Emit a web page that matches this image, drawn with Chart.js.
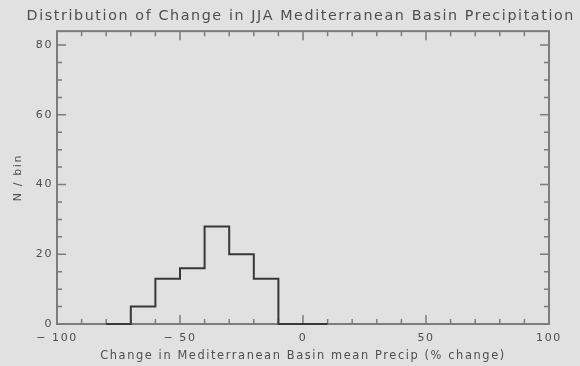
<!DOCTYPE html>
<html lang="en">
<head>
    <meta charset="UTF-8">
    <title>Distribution of Change in JJA Mediterranean Basin Precipitation</title>
    <script src="https://cdn.jsdelivr.net/npm/chart.js"></script>
    <style>
        html, body { margin: 0; padding: 0; background: #e1e1e1; }
        #wrap { width: 580px; height: 366px; }
    </style>
</head>
<body>
    <div id="wrap"><canvas id="histCanvas" width="580" height="366"></canvas></div>

    <script>
        // histogram bins (% change) and counts per bin
        const binEdges = [-80, -70, -60, -50, -40, -30, -20, -10, 0, 10];
        const binCounts = [0, 5, 13, 16, 28, 20, 13, 0, 0];
        const xTicks = [-100, -50, 0, 50, 100];
        const yTicks = [0, 20, 40, 60, 80];

        const ink = '#4e4e4e';
        const axisGray = '#7c7c7c';

        // step points: first edge, then each bin's count at its right edge
        const points = [{ x: binEdges[0], y: binCounts[0] }];
        binCounts.forEach((c, i) => points.push({ x: binEdges[i + 1], y: c }));

        // wide vector-font look
        const spacing = {
            id: 'spacing',
            beforeLayout(chart) { chart.ctx.letterSpacing = '1.6px'; },
            beforeDraw(chart) { chart.ctx.letterSpacing = '1.6px'; }
        };

        // IDL-style frame with inward ticks on all four sides
        const frameTicks = {
            id: 'frameTicks',
            beforeDatasetsDraw(chart) {
                const ctx = chart.ctx;
                const a = chart.chartArea;
                const xs = chart.scales.x, ys = chart.scales.y;
                ctx.save();
                ctx.strokeStyle = axisGray;
                ctx.lineWidth = 2;
                ctx.strokeRect(a.left, a.top, a.right - a.left, a.bottom - a.top);
                ctx.lineWidth = 1.5;
                for (let v = -100; v <= 100; v += 10) {
                    const px = xs.getPixelForValue(v);
                    const len = (v % 50 === 0) ? 9 : 5;
                    ctx.beginPath();
                    ctx.moveTo(px, a.bottom); ctx.lineTo(px, a.bottom - len);
                    ctx.moveTo(px, a.top); ctx.lineTo(px, a.top + len);
                    ctx.stroke();
                }
                for (let v = 0; v <= ys.max; v += 5) {
                    const py = ys.getPixelForValue(v);
                    const len = (v % 20 === 0) ? 9 : 5;
                    ctx.beginPath();
                    ctx.moveTo(a.left, py); ctx.lineTo(a.left + len, py);
                    ctx.moveTo(a.right, py); ctx.lineTo(a.right - len, py);
                    ctx.stroke();
                }
                ctx.restore();
            }
        };

        const ctx = document.getElementById('histCanvas').getContext('2d');
        new Chart(ctx, {
            type: 'line',
            data: {
                datasets: [{
                    data: points,
                    stepped: 'after',
                    borderColor: '#383838',
                    borderWidth: 2,
                    pointRadius: 0,
                    fill: false,
                    clip: false
                }]
            },
            options: {
                responsive: false,
                animation: false,
                layout: { padding: { top: 0, right: 5, left: 0, bottom: 0 } },
                plugins: {
                    legend: { display: false },
                    tooltip: { enabled: false },
                    title: {
                        display: true,
                        text: 'Distribution of Change in JJA Mediterranean Basin Precipitation',
                        color: ink,
                        font: { family: 'DejaVu Sans', size: 14.3, weight: 'normal' },
                        padding: { top: 8, bottom: 6 },
                        align: 'end'
                    }
                },
                scales: {
                    x: {
                        type: 'linear',
                        min: -100,
                        max: 100,
                        grid: { display: false, drawTicks: false, tickLength: 0 },
                        border: { display: false },
                        afterBuildTicks: s => { s.ticks = xTicks.map(v => ({ value: v })); },
                        ticks: {
                            color: ink,
                            padding: 8,
                            maxRotation: 0,
                            font: { family: 'DejaVu Sans', size: 11 },
                            callback: v => String(v).replace('-', '\u2212 ')
                        },
                        title: {
                            display: true,
                            text: 'Change in Mediterranean Basin mean Precip (% change)',
                            color: ink,
                            font: { family: 'DejaVu Sans', size: 11.4 },
                            padding: { top: 0, bottom: 3 }
                        },
                        afterFit: s => { s.height = 42; }
                    },
                    y: {
                        type: 'linear',
                        min: 0,
                        max: 84,
                        grid: { display: false, drawTicks: false, tickLength: 0 },
                        border: { display: false },
                        afterBuildTicks: s => { s.ticks = yTicks.map(v => ({ value: v })); },
                        ticks: {
                            color: ink,
                            padding: 4,
                            font: { family: 'DejaVu Sans', size: 11 }
                        },
                        title: {
                            display: true,
                            text: 'N / bin',
                            color: ink,
                            font: { family: 'DejaVu Sans', size: 11 },
                            padding: { top: 12, bottom: 0 }
                        },
                        afterFit: s => { s.width = 57; }
                    },
                    yRight: {
                        type: 'linear',
                        position: 'right',
                        display: true,
                        grid: { display: false, drawTicks: false },
                        border: { display: false },
                        ticks: { display: false },
                        afterFit: s => { s.width = 26; }
                    }
                }
            },
            plugins: [spacing, frameTicks]
        });
    </script>
</body>
</html>
